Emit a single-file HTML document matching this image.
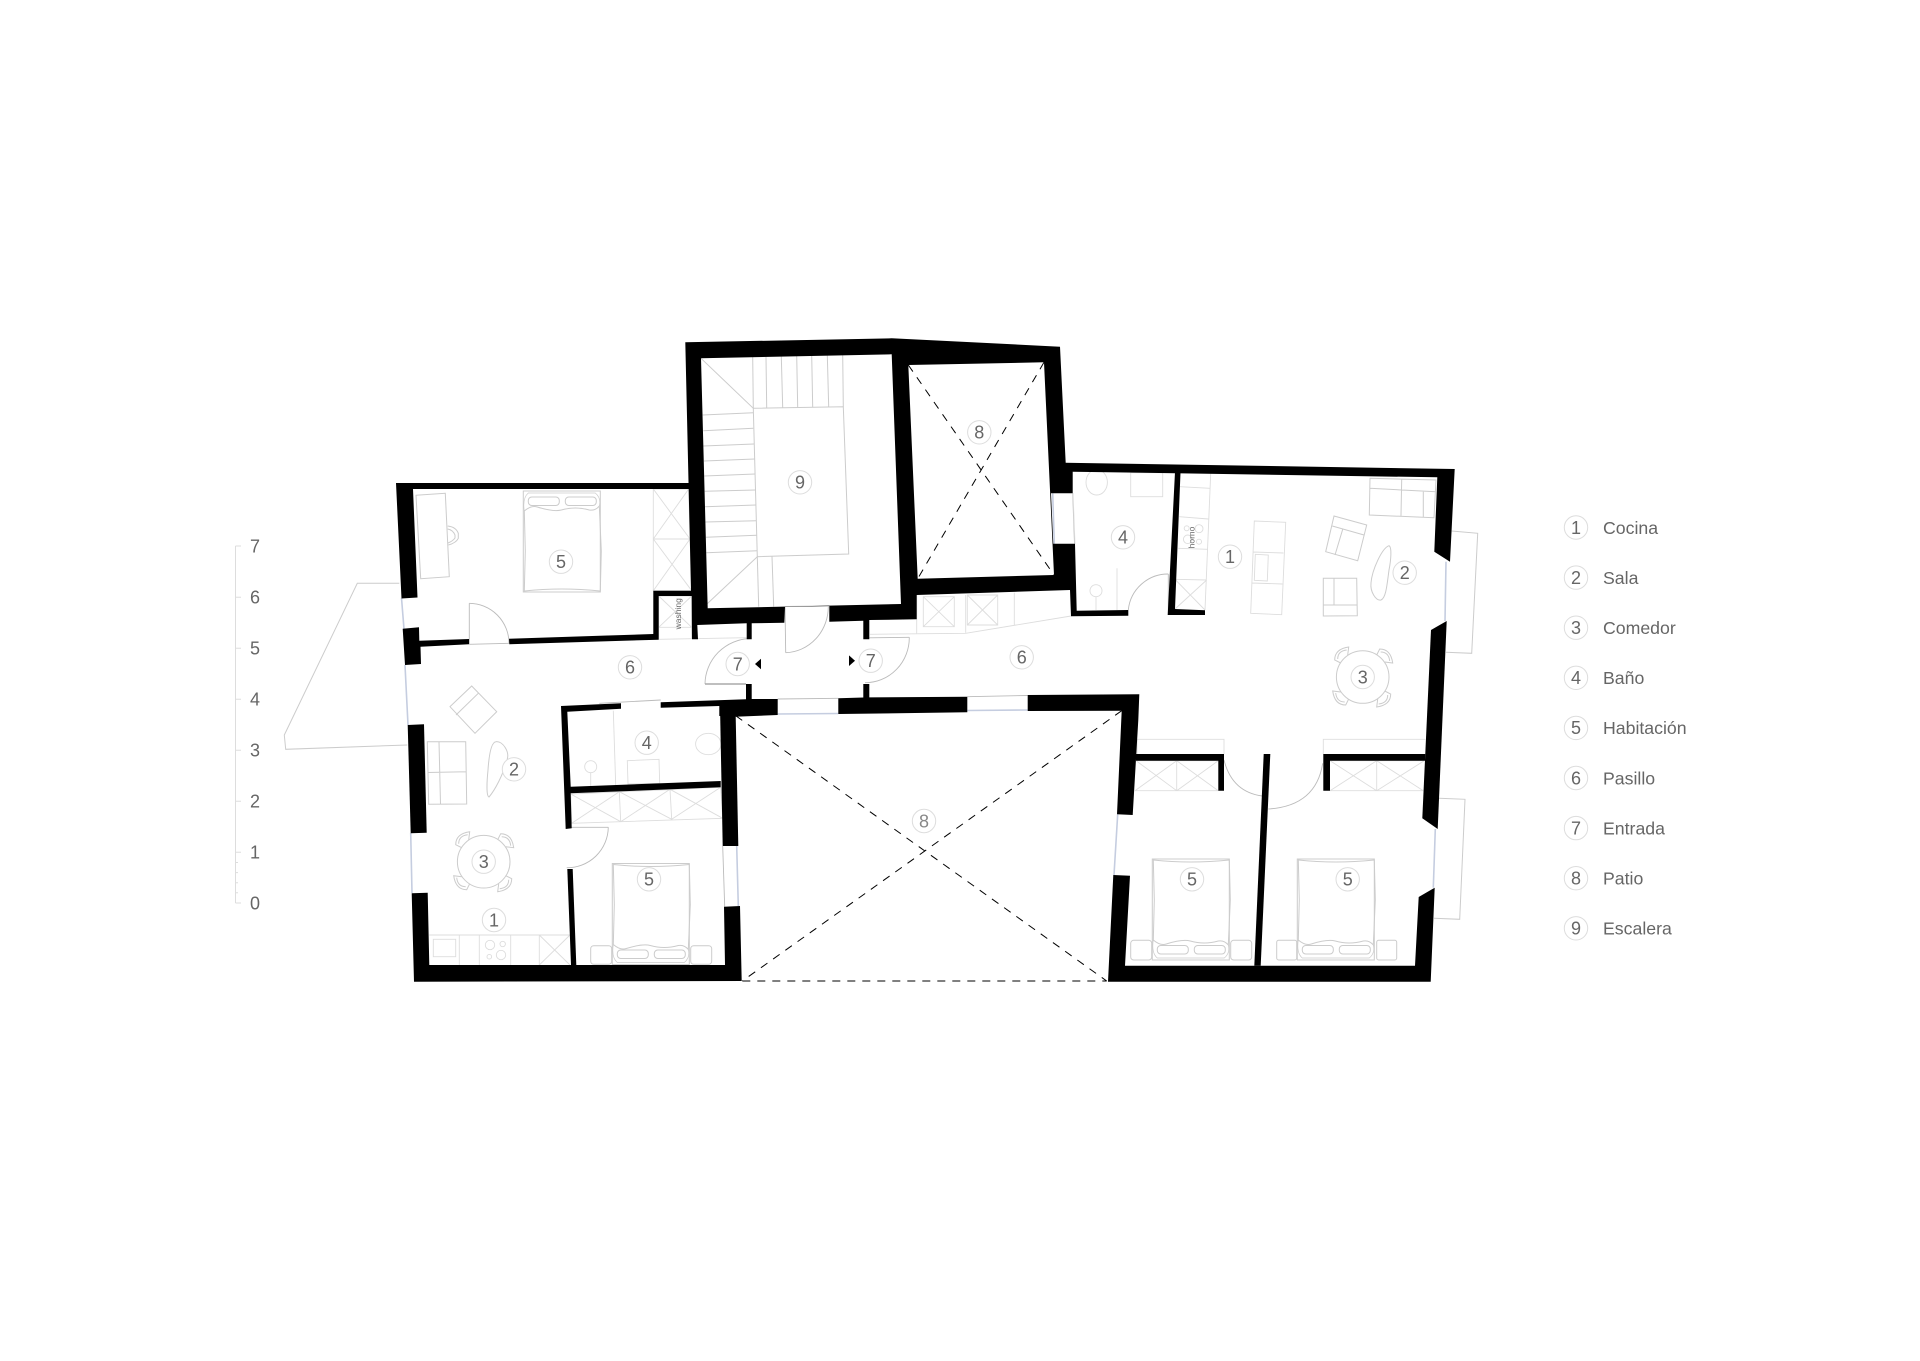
<!DOCTYPE html>
<html><head><meta charset="utf-8"><title>Plano</title>
<style>html,body{margin:0;padding:0;background:#fff}svg{display:block}
text{font-family:"Liberation Sans",Arial,sans-serif;fill:#666}
.n{font-size:18px;text-anchor:middle}.l{font-size:17.7px}.s{font-size:8.5px;text-anchor:middle;fill:#666}
.f{fill:none;stroke:#ccc;stroke-width:1}.d{fill:none;stroke:#bbb;stroke-width:.9}.x{fill:none;stroke:#ddd;stroke-width:.9}
.w{fill:none;stroke:#c5cde0;stroke-width:1.6}.c{fill:#fff;stroke:#ddd;stroke-width:1}
.p{fill:none;stroke:#000;stroke-width:1;stroke-dasharray:8 7}</style></head><body>
<svg width="1920" height="1361" viewBox="0 0 1920 1361" xmlns="http://www.w3.org/2000/svg">
<defs>
<g id="bed" class="f"><rect x="0" y="0" width="77" height="101"/><path d="M1,20Q8,14 14,16Q30,21 38,19Q52,15 66,19Q72,20 76,15L78,60L77,100Q38,96 1,100L2,60Z"/><path d="M1,20Q-1,7 5,2H72Q78,7 76,15" stroke-width=".7"/><rect x="5" y="6" width="31" height="8.5" rx="3.5"/><rect x="42" y="6" width="31" height="8.5" rx="3.5"/></g>
<g id="chair"><path class="f" d="M14,-22L17,-28Q28,-28 30,-14L22,-15M18,-25Q26,-25 27,-16" stroke-width=".9"/></g>
<g id="tbl"><use href="#chair"/><use href="#chair" transform="rotate(90)"/><use href="#chair" transform="rotate(180)"/><use href="#chair" transform="rotate(270)"/><circle r="26.3" fill="#fff" class="f"/></g>
</defs>

<!-- balconies -->
<g class="f">
<path d="M399.3,583.3L357.3,583.3L284.3,735L285.7,749.3L407.3,745"/>
<path d="M1451.7,531L1477.7,533.3L1471.7,653.3L1446,652.3"/>
<path d="M1439,798.3L1465,799.3L1459.7,919.3L1434,918.3"/>
</g>

<!-- windows -->
<g class="w">
<path d="M401.5,598L404,629M405,665L408,725M410.7,833L412,893"/>
<path d="M1446,561.7L1445,621M1435.3,829L1433.3,887.7M1117.7,814.3L1114,875"/>
<path d="M736.7,846L738.3,906M1052.7,493.3L1054.3,544M777.7,714L838.3,713.5M967.3,710.5L1027.7,710"/>
</g>
<g class="d">
<path d="M722.7,846L724.7,906.7M1072.7,493.3L1074.5,543.7M777.7,699L838.3,698.3M967.3,696.7L1027.7,695.5"/>
</g>

<!-- patio dashed -->
<path class="p" d="M908.3,365L1054,575M1044,362.3L917.7,578.7"/>
<path class="p" d="M735.7,715.7L1106.7,981M1121.7,710.7L742.3,981M742.3,981L1106.7,981"/>

<!-- stairs -->
<g class="f" stroke-width=".9">
<path d="M701,358.3L753.3,408.3L757.3,556.7L848.7,554L843.3,406.7L753.3,408.3"/>
<path d="M702.7,608L757.3,556.7L758.7,606.7M772,556.5L773.7,606.7"/>
<path d="M752.7,357L753.3,408.3M766,357L766.7,408M781.3,356.5L782.7,408M796.7,356L797.7,407.7M811.7,355.5L812.7,407.5M827.3,355L828.7,407M842.7,354.5L843.3,406.7"/>
<path d="M702.7,415L753.3,412.7M703.3,430.7L753.3,428.3M703.3,446L754,444M704,461L754.7,459M704.3,476L755.3,474M704.7,491.3L755.7,490M705,506.7L756,505M705.3,522L756.3,520.7M706,537.3L756.7,535.3M706.3,552.7L757.3,550.7"/>
</g>

<!-- furniture: top-left bedroom -->
<use href="#bed" transform="translate(523.3,491)"/>
<g class="f"><path d="M416,495.3L445.3,493.3L449.3,576.7L420.7,578.7Z"/><path d="M447.7,526Q456,527 458.3,533.3L458.3,538.3Q456,543 448.3,545M447.7,529Q453,530 455,535L455,538Q453,541 448,543"/></g>
<g class="x"><path d="M653.3,489L688.7,489L691.7,590.7L653.3,590.7ZM653.3,539L690,539M653.3,489L690,539M688.7,489L653.3,539M653.3,539L691.7,590.7M690,539L653.3,590.7"/>
<path d="M658.7,596H691.7V627.3H658.7ZM658.7,596L691.7,627.3M691.7,596L658.7,627.3M658.7,627.3V639.5M691.7,627.3V639.5M658.7,639.3L746.7,637.7"/></g>
<text class="s" transform="translate(681,613.8) rotate(-90)">washing</text>

<!-- left living -->
<g class="f">
<path d="M471.7,686L496.7,711.7L475,733.3L450,706.7ZM478.3,693.3L456,715"/>
<path d="M427.3,741.7H465.7L466.7,804L428.7,804.3ZM439,741.7L440.5,804M428,772.5L465.7,771.7"/>
<path d="M496,741.7C503,741 510,752 507,760C503,775 495,790 489,797C486,796 487,780 488,770C489,755 491,742 496,741.7Z"/>
</g>
<use href="#tbl" transform="translate(483.7,861.7)"/>

<!-- left kitchen -->
<g class="x"><path d="M429.3,935H570M459.3,935V965M479.3,935V965M510.7,935V965M539.3,935V965M539.3,935L570,965M570,935L539.3,965"/>
<rect x="433.3" y="939.3" width="22.4" height="17.4"/><circle cx="490" cy="945" r="4.7"/><circle cx="502.7" cy="944" r="2.7"/><circle cx="489.3" cy="956.7" r="2.3"/><circle cx="501" cy="955" r="4.7"/></g>

<!-- left bath -->
<g class="x"><path d="M613.3,710.7L615.7,785M627.3,760.7L659,759.3L659.7,783.3L628,784Z"/><ellipse cx="708.3" cy="744" rx="12.7" ry="10.7"/><circle cx="590.7" cy="766.7" r="6"/><path d="M590.7,772.7V786"/></g>
<g class="x"><path d="M570.7,794L720.7,787.3L722.7,818.3L571.7,823.3ZM619.3,791.7L620.7,821.7M670,789.3L671.7,819.3M570.7,794L620.7,821.7M619.3,791.7L571.7,823.3M619.3,791.7L671.7,819.3M670,789.3L620.7,821.7M670,789.3L722.7,818.3M720.7,787.3L671.7,819.3"/></g>

<!-- lower-left bedroom -->
<use href="#bed" transform="translate(612.3,964.5) scale(1,-1)"/>
<g class="f"><rect x="590.7" y="945.7" width="21" height="18.6" rx="3"/><rect x="690.7" y="945.7" width="21" height="18.6" rx="3"/></g>

<!-- hall closets -->
<g class="x"><path d="M916.7,595V633.3M965.7,595V632.7M1014.3,592.7V625M870,634.3L965.7,633.3L1071,616"/><path d="M923.3,596.7H954.3V626.7H923.3ZM923.3,596.7L954.3,626.7M954.3,596.7L923.3,626.7M967.3,595H997.7V625H967.3ZM967.3,595L997.7,625M997.7,595L967.3,625"/></g>

<!-- right bath -->
<g class="x"><ellipse cx="1096.7" cy="482.3" rx="10.7" ry="12.7"/><rect x="1130.7" y="472.7" width="32" height="24"/><circle cx="1096" cy="590.7" r="6"/><path d="M1096,596.7V610M1117,568.3V610"/><path d="M1073,493L1075,544"/></g>

<!-- right kitchen -->
<g class="x"><path d="M1210.7,473.3L1205,610M1180,486.7L1210,488.3M1179.3,516.7L1208.3,519M1178.3,548.3L1207.7,549.3M1175,579.3L1206.7,580M1175,579.3L1205,610M1206.7,580L1175,609"/>
<circle cx="1186.7" cy="528.3" r="2.5"/><circle cx="1199" cy="528.7" r="4"/><circle cx="1187.7" cy="539.3" r="4.3"/><circle cx="1199" cy="541.7" r="2.5"/>
<path d="M1254.3,521L1285.7,522.3L1281.7,614.7L1250.7,613.3ZM1253,552L1283.5,553M1251.7,583L1282.5,584M1255.3,554.3L1268.3,555L1267.3,581L1254.3,580.3Z"/></g>
<text class="s" transform="translate(1194.5,537.5) rotate(-90)">horno</text>

<!-- right living -->
<g class="f">
<path d="M1370,478.3L1436,480L1434,517.7L1369.3,515ZM1370,488.3L1436,491.7M1401.7,479.3L1401,515.7M1423.3,491.7V516.7"/>
<path d="M1334,516L1366.7,525L1357.7,560.7L1325.7,551.7ZM1332.3,526L1364,535M1342.7,529.3L1335,555"/>
<path d="M1323.3,578.3H1356.7L1357.3,615.7L1323.3,616ZM1334,578.3V605M1323.3,605H1356.7"/>
<path d="M1389,545.7C1392,547 1391,560 1389,570C1387,585 1386,598 1381,600C1376,601 1370,592 1371,583C1372,570 1382,548 1389,545.7Z"/>
</g>
<use href="#tbl" transform="translate(1362.7,677)"/>

<!-- right bedrooms -->
<use href="#bed" transform="translate(1152.3,960) scale(1,-1)"/>
<use href="#bed" transform="translate(1297.3,960) scale(1,-1)"/>
<g class="f"><rect x="1130.7" y="940.3" width="21" height="19.7" rx="3"/><rect x="1230.7" y="940.3" width="21" height="19.7" rx="3"/><rect x="1276.7" y="940.3" width="20" height="19.7" rx="2"/><rect x="1376.7" y="940.3" width="20" height="19.7" rx="2"/></g>
<g class="x"><path d="M1136,760.7H1218.3M1135,790.7H1218.3M1176.7,760.7V790.7M1136,760.7L1176.7,790.7M1176.7,760.7L1135,790.7M1176.7,760.7L1218.3,790.7M1218.3,760.7L1176.7,790.7"/>
<path d="M1330,760.7H1424.3M1330,790.7H1423.3M1376.7,760.7V790.7M1330,790.7L1376.7,760.7M1330,760.7L1376.7,790.7M1376.7,760.7L1423.3,790.7M1424.3,760.7L1376.7,790.7"/>
<path d="M1137,739.3H1224V754M1137,739.3V754M1323.3,754V739.3H1425.3"/></g>

<!-- doors -->
<g class="d">
<path d="M469.3,644.3V603.3M469.3,644.3L509,643.3"/><path d="M469.3,603.3A40,40 0 0 1 509,643.3"/>
<path d="M565.7,827.3H608.3"/><path d="M608.3,827.3A41,41 0 0 1 566.7,867.7"/>
<path d="M599.3,703.3L660.7,700"/>
<path d="M785,606.7L785.7,652.7"/><path d="M785.7,652.7A44,46 0 0 0 828.3,606"/><path d="M785,606.5L829,606"/>
<path d="M705,684A46.7,46 0 0 1 750,638.5"/><path d="M705,684H746" stroke="#aaa" stroke-width="1.4"/>
<path d="M869.3,637.8L909.3,637.3"/><path d="M909.3,637.3A44,45 0 0 1 865,682.7"/>
<path d="M1168.3,574V615"/><path d="M1168.3,574A40,40 0 0 0 1128.3,610"/>
<path d="M1224,760Q1232,792 1262.3,796"/><path d="M1322.7,763.3Q1316,806 1268.3,809"/>
</g>

<!-- walls -->
<g fill="#000">
<path fill-rule="evenodd" d="M685.3,342.3L891.7,338.3L1060,346.7L1065.7,463L1072.7,463L1072.7,493.3L1051,493.3L1053.3,543.7L1075,543.7L1076.7,610.7L1128.3,610L1128.3,615.7L1071,616.3L1070,590L916.7,595L916.7,619.3L869.3,620L869.3,639.3L863.3,639.3L863.3,620.7L829.3,621.7L829.3,606L785,606.7L784.3,622.7L751.7,623.3L751.7,639.3L746.7,639.3L746.7,623.3L697.3,625L698,639.3L692,639.3L691.7,596L658.7,596L658.7,639.7L509.3,644.3L509,638.7L653.3,634L653.3,590.7L691,590.7Z
M701,358.3L891.7,354.3L901,604L707.7,608.3Z
M908.3,365L1044,362.3L1054,575L917.7,578.7Z"/>
<path d="M396,483L689,483L690,489L413,489L417.5,597.5L401.5,598.5Z"/>
<path d="M402.7,628.7L419,627.3L419.3,640.7L469,639L469,644.3L420.5,646.7L421,664L405,665Z"/>
<path d="M407.7,725L424,724.3L426.7,832.7L410.7,833.3Z"/>
<path d="M411.7,893.3L427.7,892.7L429.3,965L725,965L724,906.7L740,906L741.7,981L414,981.7Z"/>
<path d="M720,706L735.7,716.7L738.3,846L722.7,846Z"/>
<path d="M660.7,702.3L746,699.3L746,684L751.7,684L751.7,699L777.7,699L777.7,715L735,716.7L719.3,716L719.3,706L660.7,707.7Z"/>
<path d="M838.3,698.3L863.3,697.5L863.3,684L869.3,684L869.3,697.4L967.3,696.7L967.3,712.3L838.3,714Z"/>
<path d="M1027.7,695L1139.3,694.3L1138.3,720L1132.7,815L1117,814.3L1121.7,710.7L1027.7,711Z"/>
<path d="M561,706L621,703.3L621,708.7L567.3,711.7L570.7,786.7L720.7,781L720.7,787.3L570.7,793.3L571.7,828.3L565.7,829Z"/>
<path d="M567.3,869L572.7,869L576.3,965L571,965Z"/>
<path d="M1065,462.7L1454.7,469L1450,561.7L1434.3,551.7L1437.3,477.3L1072.7,471.7Z"/>
<path d="M1175,472L1180.5,472.5L1175,609L1205,610.3L1205,615L1167.7,615Z"/>
<path d="M1446.7,621L1437.7,829L1422.3,818.3L1431,630Z"/>
<path d="M1434.7,887.7L1430.7,981.7L1108,981.7L1113.3,875L1130,875.7L1125,965.7L1415,965.7L1418.7,897Z"/>
<path d="M1136,754H1224V790.7H1218.3V760.7H1136Z"/>
<path d="M1263.7,754H1270.3L1260.7,965.7H1254.3Z"/>
<path d="M1323.3,754H1425.3L1425,760.7H1330V790.7H1323.3Z"/>
<path d="M755,664L761,658.7V669.3Z"/>
<path d="M855,660.7L849,655.4V666Z"/>
</g>

<!-- room labels -->
<g id="labels">
<circle class="c" cx="561" cy="561.7" r="11.7"/><text class="n" x="561" y="568">5</text>
<circle class="c" cx="630" cy="667.3" r="11.7"/><text class="n" x="630" y="673.6">6</text>
<circle class="c" cx="737.7" cy="664" r="11.7"/><text class="n" x="737.7" y="670.3">7</text>
<circle class="c" cx="870.7" cy="660.7" r="11.7"/><text class="n" x="870.7" y="667">7</text>
<circle class="c" cx="1021.7" cy="657.3" r="11.7"/><text class="n" x="1021.7" y="663.6">6</text>
<circle class="c" cx="514" cy="769.3" r="11.7"/><text class="n" x="514" y="775.6">2</text>
<circle class="c" cx="646.7" cy="742.7" r="11.7"/><text class="n" x="646.7" y="749">4</text>
<circle class="c" cx="483.7" cy="861.7" r="11.7"/><text class="n" x="483.7" y="868">3</text>
<circle class="c" cx="494" cy="920" r="11.7"/><text class="n" x="494" y="926.3">1</text>
<circle class="c" cx="649" cy="879.3" r="11.7"/><text class="n" x="649" y="885.6">5</text>
<circle class="c" cx="979.3" cy="432.3" r="11.7"/><text class="n" x="979.3" y="438.6">8</text>
<circle class="c" cx="800" cy="482.3" r="11.7"/><text class="n" x="800" y="488.6">9</text>
<circle class="c" cx="1123" cy="537.3" r="11.7"/><text class="n" x="1123" y="543.6">4</text>
<circle class="c" cx="1230" cy="556.7" r="11.7"/><text class="n" x="1230" y="563">1</text>
<circle class="c" cx="1404.7" cy="572.7" r="11.7"/><text class="n" x="1404.7" y="579">2</text>
<circle class="c" cx="1362.7" cy="677" r="11.7"/><text class="n" x="1362.7" y="683.3">3</text>
<circle class="c" cx="1192" cy="879.3" r="11.7"/><text class="n" x="1192" y="885.6">5</text>
<circle class="c" cx="1347.7" cy="879.3" r="11.7"/><text class="n" x="1347.7" y="885.6">5</text>
<circle class="c" cx="924" cy="821" r="11.7"/><text class="n" x="924" y="827.3" style="fill:#888">8</text>
</g>

<!-- scale -->
<g stroke="#ddd" stroke-width="1" fill="none">
<path d="M235.5,546V903M235.5,546H241M235.5,597.3H241M235.5,648.3H241M235.5,699.3H241M235.5,750.3H241M235.5,801.3H241M235.5,852.3H241M235.5,903H241"/>
<path d="M235.5,862.5H238M235.5,872.6H238M235.5,882.7H238M235.5,892.8H238"/>
</g>
<g class="l" style="font-size:18px"><text x="250" y="552.5">7</text><text x="250" y="603.3">6</text><text x="250" y="654.5">5</text><text x="250" y="705.5">4</text><text x="250" y="756.5">3</text><text x="250" y="807.5">2</text><text x="250" y="858.5">1</text><text x="250" y="909.5">0</text></g>

<!-- legend -->
<g>
<circle class="c" cx="1576" cy="527.5" r="11.7"/><text class="n" x="1576" y="533.8">1</text><text class="l" x="1603" y="533.8">Cocina</text>
<circle class="c" cx="1576" cy="577.6" r="11.7"/><text class="n" x="1576" y="583.9">2</text><text class="l" x="1603" y="583.9">Sala</text>
<circle class="c" cx="1576" cy="627.7" r="11.7"/><text class="n" x="1576" y="634">3</text><text class="l" x="1603" y="634">Comedor</text>
<circle class="c" cx="1576" cy="677.8" r="11.7"/><text class="n" x="1576" y="684.1">4</text><text class="l" x="1603" y="684.1">Baño</text>
<circle class="c" cx="1576" cy="727.9" r="11.7"/><text class="n" x="1576" y="734.2">5</text><text class="l" x="1603" y="734.2">Habitación</text>
<circle class="c" cx="1576" cy="778" r="11.7"/><text class="n" x="1576" y="784.3">6</text><text class="l" x="1603" y="784.3">Pasillo</text>
<circle class="c" cx="1576" cy="828.1" r="11.7"/><text class="n" x="1576" y="834.4">7</text><text class="l" x="1603" y="834.4">Entrada</text>
<circle class="c" cx="1576" cy="878.2" r="11.7"/><text class="n" x="1576" y="884.5">8</text><text class="l" x="1603" y="884.5">Patio</text>
<circle class="c" cx="1576" cy="928.3" r="11.7"/><text class="n" x="1576" y="934.6">9</text><text class="l" x="1603" y="934.6">Escalera</text>
</g>
</svg>
</body></html>
